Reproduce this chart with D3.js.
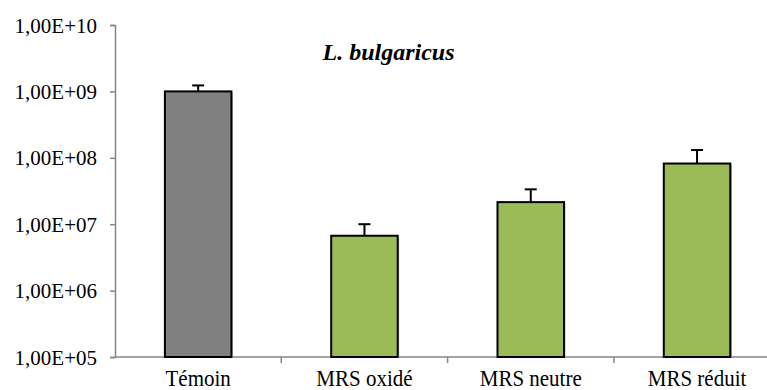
<!DOCTYPE html>
<html>
<head>
<meta charset="utf-8">
<script src="https://cdn.jsdelivr.net/npm/d3@7"></script>
<style>
  body { margin: 0; background: #fff; }
</style>
</head>
<body>
<script>
const categories = ['Témoin', 'MRS oxidé', 'MRS neutre', 'MRS réduit']
const counts = [1.0e9, 6.7e6, 2.15e7, 8.2e7]
const errorTops = [1.23e9, 1.0e7, 3.35e7, 1.31e8]
const barColors = ['#808080', '#9bbb59', '#9bbb59', '#9bbb59']
const yTicks = [1e5, 1e6, 1e7, 1e8, 1e9, 1e10]
const title = 'L. bulgaricus'

const serif = "'Liberation Serif', 'Times New Roman', Times, serif"

let width = 767, height = 390
let svg = d3.select('body').append('svg')
  .attr('width', width)
  .attr('height', height)
  .style('font-family', serif)

const plotLeft = 115, plotTop = 25, plotBottom = 357
const step = 166.3

let x = d3.scaleBand().domain(categories)
  .range([plotLeft, plotLeft + step*categories.length])
  .paddingInner(0.6).paddingOuter(0.3)
let y = d3.scaleLog().domain([1e5, 1e10]).range([plotBottom, plotTop])

const fmt = v => '1,00E+' + String(Math.round(Math.log10(v))).padStart(2, '0')

// y axis
let yAxis = svg.append('g')
  .attr('transform', `translate(${plotLeft},0)`)
  .call(d3.axisLeft(y).tickValues(yTicks).tickFormat(fmt).tickSizeOuter(0).tickSize(5).tickPadding(13))
yAxis.attr('font-family', null).attr('font-size', null)
yAxis.select('.domain').attr('stroke', '#868686').attr('stroke-width', 1.5)
yAxis.selectAll('.tick line').attr('stroke', '#868686').attr('stroke-width', 1.5)
yAxis.selectAll('.tick text')
  .style('font-family', serif)
  .style('font-size', '21px')
  .attr('fill', '#000')
  .attr('dy', '0.34em')

// x axis
let xAxis = svg.append('g').attr('transform', `translate(0,${plotBottom})`)
xAxis.append('line')
  .attr('x1', plotLeft).attr('x2', width)
  .attr('stroke', '#868686').attr('stroke-width', 1.5)
xAxis.selectAll('line.bound')
  .data(categories.slice(1))
  .join('line')
  .attr('class', 'bound')
  .attr('x1', d => x(d) - x.step()*0.3).attr('x2', d => x(d) - x.step()*0.3)
  .attr('y1', 0).attr('y2', 6)
  .attr('stroke', '#868686').attr('stroke-width', 1.5)
xAxis.selectAll('text.cat')
  .data(categories)
  .join('text')
  .attr('class', 'cat')
  .attr('text-anchor', 'middle')
  .style('font-family', serif)
  .style('font-size', '21px')
  .attr('transform', d => `translate(${x(d) + x.bandwidth()/2},0) scale(1,1.06)`)
  .attr('y', 27.2)
  .text(d => d)

// bars
let bars = svg.append('g')
bars.selectAll('rect.shadow')
  .data(counts)
  .join('rect')
  .attr('class', 'shadow')
  .attr('x', (d, i) => x(categories[i]) + 1.5)
  .attr('y', d => y(d) + 1.5)
  .attr('width', x.bandwidth())
  .attr('height', d => plotBottom - y(d) - 1.5)
  .attr('fill', '#bdbdbd')
bars.selectAll('rect.bar')
  .data(counts)
  .join('rect')
  .attr('class', 'bar')
  .attr('x', (d, i) => x(categories[i]))
  .attr('y', d => y(d))
  .attr('width', x.bandwidth())
  .attr('height', d => plotBottom - y(d))
  .attr('fill', (d, i) => barColors[i])
  .attr('stroke', '#000')
  .attr('stroke-width', 2)

// error bars (upper only)
let err = svg.append('g').attr('stroke', '#000').attr('stroke-width', 2)
err.selectAll('line.v')
  .data(errorTops)
  .join('line')
  .attr('x1', (d, i) => x(categories[i]) + x.bandwidth()/2)
  .attr('x2', (d, i) => x(categories[i]) + x.bandwidth()/2)
  .attr('y1', (d, i) => y(counts[i]))
  .attr('y2', d => y(d))
err.selectAll('line.cap')
  .data(errorTops)
  .join('line')
  .attr('x1', (d, i) => x(categories[i]) + x.bandwidth()/2 - 6)
  .attr('x2', (d, i) => x(categories[i]) + x.bandwidth()/2 + 6)
  .attr('y1', d => y(d))
  .attr('y2', d => y(d))

// title
svg.append('text')
  .attr('x', 388.5).attr('y', 60)
  .attr('text-anchor', 'middle')
  .style('font-family', serif)
  .style('font-size', '24px')
  .style('font-weight', 'bold')
  .style('font-style', 'italic')
  .text(title)
</script>
</body>
</html>
